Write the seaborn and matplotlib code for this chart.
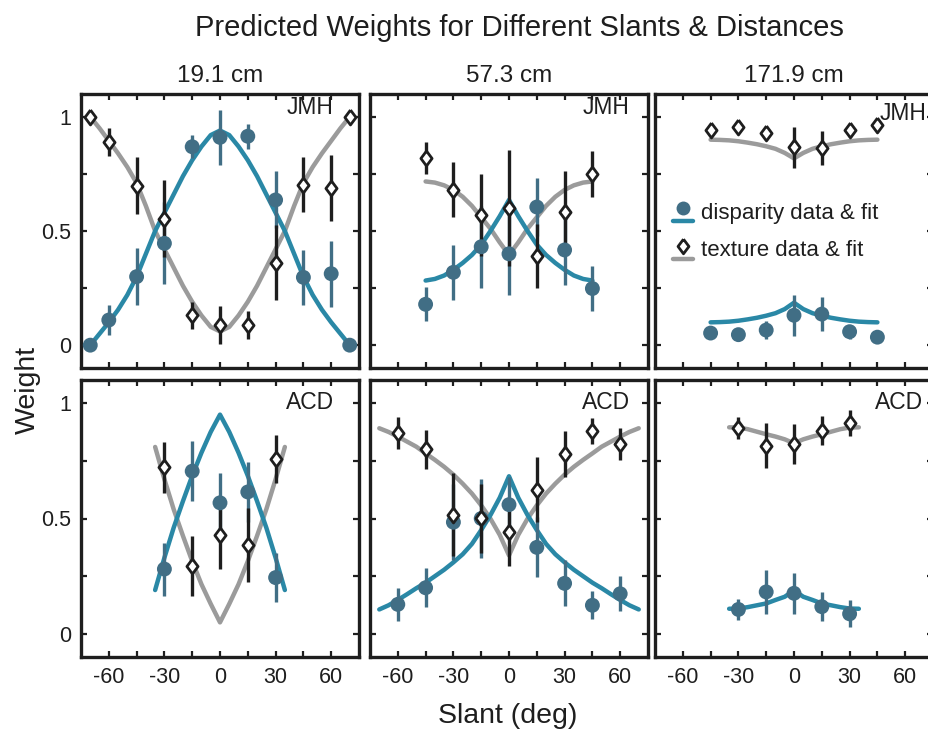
import matplotlib
matplotlib.use('Agg')
import matplotlib.pyplot as plt
from matplotlib.lines import Line2D
from matplotlib.legend_handler import HandlerBase
import seaborn as sns

# colours
FIT_BLUE = '#2a88a6'
DOT_BLUE = '#416e85'
FIT_GRAY = '#9b9b9b'
INK = '#1e1e1e'

# diamond a bit narrower than tall, as in the figure
DIAMOND = [(0, 1), (0.75, 0), (0, -1), (-0.75, 0), (0, 1)]

# fit sampling grids (deg)
FX70 = [-70, -65, -60, -55, -50, -45, -40, -35, -30, -25, -20, -15, -10, -5, 0,
        5, 10, 15, 20, 25, 30, 35, 40, 45, 50, 55, 60, 65, 70]
FX45 = [-45, -40, -35, -30, -25, -20, -15, -10, -5, 0, 5, 10, 15, 20, 25, 30, 35, 40, 45]
FX35 = [-35, -30, -25, -20, -15, -10, -5, 0, 5, 10, 15, 20, 25, 30, 35]

# ---- JMH, 19.1 cm
jmh19_x = [-70, -60, -45, -30, -15, 0, 15, 30, 45, 60, 70]
jmh19_disp = [0.0, 0.11, 0.30, 0.446, 0.869, 0.91, 0.915, 0.636, 0.297, 0.313, 0.0]
jmh19_disp_err = [0, 0.064, 0.125, 0.18, 0.05, 0.12, 0.055, 0.125, 0.12, 0.145, 0]
jmh19_tex = [1.0, 0.89, 0.698, 0.554, 0.131, 0.088, 0.088, 0.362, 0.703, 0.687, 1.0]
jmh19_tex_err = [0, 0.06, 0.125, 0.17, 0.06, 0.085, 0.06, 0.165, 0.12, 0.145, 0]
jmh19_fit_disp = [0.0, 0.05, 0.10, 0.155, 0.22, 0.30, 0.40, 0.50, 0.58, 0.66, 0.74, 0.81, 0.87, 0.92, 0.94,
                  0.92, 0.87, 0.81, 0.74, 0.66, 0.58, 0.50, 0.40, 0.30, 0.22, 0.155, 0.10, 0.05, 0.0]
jmh19_fit_tex = [1.0, 0.95, 0.895, 0.84, 0.78, 0.71, 0.61, 0.50, 0.42, 0.34, 0.26, 0.19, 0.13, 0.08, 0.06,
                 0.08, 0.13, 0.19, 0.26, 0.34, 0.42, 0.50, 0.61, 0.71, 0.78, 0.84, 0.895, 0.95, 1.0]

# ---- JMH, 57.3 cm
jmh57_x = [-45, -30, -15, 0, 15, 30, 45]
jmh57_disp = [0.179, 0.319, 0.431, 0.40, 0.605, 0.417, 0.248]
jmh57_disp_err = [0.075, 0.12, 0.18, 0.18, 0.125, 0.155, 0.1]
jmh57_tex = [0.821, 0.681, 0.569, 0.60, 0.392, 0.583, 0.749]
jmh57_tex_err = [0.07, 0.12, 0.18, 0.255, 0.14, 0.18, 0.1]
jmh57_fit_disp = [0.283, 0.29, 0.305, 0.33, 0.36, 0.395, 0.44, 0.50, 0.565, 0.636,
                  0.565, 0.50, 0.44, 0.395, 0.36, 0.33, 0.305, 0.29, 0.283]
jmh57_fit_tex = [0.717, 0.712, 0.70, 0.68, 0.65, 0.61, 0.56, 0.51, 0.45, 0.395,
                 0.45, 0.51, 0.56, 0.61, 0.65, 0.68, 0.70, 0.712, 0.717]

# ---- JMH, 171.9 cm
jmh171_x = [-45, -30, -15, 0, 15, 30, 45]
jmh171_disp = [0.053, 0.046, 0.066, 0.131, 0.136, 0.059, 0.035]
jmh171_disp_err = [0, 0, 0.04, 0.09, 0.075, 0.03, 0]
jmh171_tex = [0.944, 0.955, 0.929, 0.867, 0.864, 0.941, 0.965]
jmh171_tex_err = [0, 0, 0.03, 0.09, 0.075, 0.03, 0]
jmh171_fit_disp = [0.10, 0.101, 0.103, 0.107, 0.113, 0.12, 0.129, 0.14, 0.158, 0.186,
                   0.158, 0.14, 0.129, 0.12, 0.113, 0.107, 0.103, 0.101, 0.10]
jmh171_fit_tex = [0.90, 0.899, 0.897, 0.893, 0.887, 0.88, 0.871, 0.86, 0.842, 0.818,
                  0.842, 0.86, 0.871, 0.88, 0.887, 0.893, 0.897, 0.899, 0.90]

# ---- ACD, 19.1 cm
acd19_x = [-30, -15, 0, 15, 30]
acd19_disp = [0.281, 0.705, 0.568, 0.615, 0.244]
acd19_disp_err = [0.115, 0.13, 0.13, 0.13, 0.105]
acd19_tex = [0.721, 0.295, 0.43, 0.385, 0.757]
acd19_tex_err = [0.11, 0.13, 0.15, 0.16, 0.105]
acd19_fit_disp = [0.19, 0.33, 0.46, 0.575, 0.685, 0.785, 0.875, 0.95,
                  0.875, 0.785, 0.685, 0.575, 0.46, 0.33, 0.19]
acd19_fit_tex = [0.81, 0.67, 0.54, 0.425, 0.315, 0.215, 0.13, 0.05,
                 0.13, 0.215, 0.315, 0.425, 0.54, 0.67, 0.81]

# ---- ACD, 57.3 cm
acd57_x = [-60, -45, -30, -15, 0, 15, 30, 45, 60]
acd57_disp = [0.128, 0.2, 0.484, 0.5, 0.56, 0.375, 0.219, 0.124, 0.174]
acd57_disp_err = [0.07, 0.085, 0.165, 0.17, 0.12, 0.13, 0.1, 0.06, 0.075]
acd57_tex = [0.869, 0.8, 0.516, 0.501, 0.44, 0.625, 0.779, 0.879, 0.823]
acd57_tex_err = [0.07, 0.085, 0.18, 0.15, 0.145, 0.14, 0.1, 0.055, 0.07]
acd57_fit_disp = [0.106, 0.124, 0.147, 0.172, 0.198, 0.222, 0.25, 0.278, 0.31, 0.345, 0.39, 0.45, 0.515, 0.59, 0.683,
                  0.59, 0.515, 0.45, 0.39, 0.345, 0.31, 0.278, 0.25, 0.222, 0.198, 0.172, 0.147, 0.124, 0.106]
acd57_fit_tex = [0.891, 0.875, 0.855, 0.833, 0.811, 0.782, 0.754, 0.724, 0.69, 0.651, 0.608, 0.557, 0.499, 0.429, 0.34,
                 0.429, 0.499, 0.557, 0.608, 0.651, 0.69, 0.724, 0.754, 0.782, 0.811, 0.833, 0.855, 0.875, 0.891]

# ---- ACD, 171.9 cm
acd171_x = [-30, -15, 0, 15, 30]
acd171_disp = [0.106, 0.182, 0.176, 0.118, 0.087]
acd171_disp_err = [0.045, 0.095, 0.09, 0.063, 0.058]
acd171_tex = [0.891, 0.815, 0.823, 0.881, 0.913]
acd171_tex_err = [0.047, 0.097, 0.087, 0.063, 0.055]
acd171_fit_disp = [0.109, 0.11, 0.116, 0.124, 0.132, 0.147, 0.161, 0.189,
                   0.161, 0.147, 0.132, 0.124, 0.116, 0.11, 0.109]
acd171_fit_tex = [0.895, 0.894, 0.887, 0.876, 0.865, 0.855, 0.843, 0.826,
                  0.843, 0.855, 0.865, 0.876, 0.887, 0.894, 0.895]

distances = ['19.1 cm', '57.3 cm', '171.9 cm']
subjects = ['JMH', 'ACD']
xtick_vals = [-60, -30, 0, 30, 60]
ytick_vals = [0, 0.5, 1]
ytick_labels = ['0', '0.5', '1']

sns.set_theme(style='ticks')
plt.rcParams['font.family'] = ['Liberation Sans', 'DejaVu Sans']
plt.rcParams['text.color'] = INK
plt.rcParams['xtick.color'] = INK
plt.rcParams['ytick.color'] = INK


class MarkOverLine:
    def __init__(self, mark, line):
        self.mark = mark
        self.line = line


class StackedHandler(HandlerBase):
    # marker sits above a short piece of the fit line
    def create_artists(self, legend, orig_handle, xdescent, ydescent, width, height, fontsize, trans):
        x0 = -xdescent
        x1 = x0 + width
        y0 = -ydescent
        ln = Line2D([x0, x1], [y0 + 0.12 * height] * 2, color=orig_handle.line.get_color(),
                    lw=orig_handle.line.get_linewidth(), solid_capstyle='round', transform=trans)
        m = orig_handle.mark
        mk = Line2D([(x0 + x1) / 2], [y0 + 0.62 * height], linestyle='none', marker=m.get_marker(),
                    markersize=m.get_markersize(), markerfacecolor=m.get_markerfacecolor(),
                    markeredgecolor=m.get_markeredgecolor(), markeredgewidth=m.get_markeredgewidth(),
                    transform=trans)
        return [ln, mk]


def draw_panel(ax, fx, fit_d, fit_t, x, d, de, t, te):
    sns.lineplot(x=fx, y=fit_t, ax=ax, color=FIT_GRAY, lw=3.2, zorder=2)
    sns.lineplot(x=fx, y=fit_d, ax=ax, color=FIT_BLUE, lw=3.2, zorder=2)
    ax.errorbar(x, d, yerr=de, fmt='none', ecolor=DOT_BLUE, elinewidth=2.4, capsize=0, zorder=3)
    ax.errorbar(x, t, yerr=te, fmt='none', ecolor=INK, elinewidth=2.4, capsize=0, zorder=3)
    sns.scatterplot(x=x, y=d, ax=ax, color=DOT_BLUE, s=115, edgecolor='none', zorder=4)
    sns.scatterplot(x=x, y=t, ax=ax, marker=DIAMOND, color='white', s=115, edgecolor=INK,
                    linewidth=2.0, zorder=5)


panels = [
    [(FX70, jmh19_fit_disp, jmh19_fit_tex, jmh19_x, jmh19_disp, jmh19_disp_err, jmh19_tex, jmh19_tex_err),
     (FX45, jmh57_fit_disp, jmh57_fit_tex, jmh57_x, jmh57_disp, jmh57_disp_err, jmh57_tex, jmh57_tex_err),
     (FX45, jmh171_fit_disp, jmh171_fit_tex, jmh171_x, jmh171_disp, jmh171_disp_err, jmh171_tex, jmh171_tex_err)],
    [(FX35, acd19_fit_disp, acd19_fit_tex, acd19_x, acd19_disp, acd19_disp_err, acd19_tex, acd19_tex_err),
     (FX70, acd57_fit_disp, acd57_fit_tex, acd57_x, acd57_disp, acd57_disp_err, acd57_tex, acd57_tex_err),
     (FX35, acd171_fit_disp, acd171_fit_tex, acd171_x, acd171_disp, acd171_disp_err, acd171_tex, acd171_tex_err)],
]

W, H = 929, 732
fig = plt.figure(figsize=(W / 100, H / 100), dpi=100)

col_left = [81, 370, 655]
col_w = 278
row_top = [94, 380]
row_h = [274, 277]
# where the subject name sits in each panel (axes fraction)
label_pos = [[(0.91, 0.95), (0.935, 0.95), (0.975, 0.93)],
             [(0.91, 0.92), (0.935, 0.92), (0.965, 0.918)]]

axes = []
for r in range(2):
    for c in range(3):
        ax = fig.add_axes([col_left[c] / W, 1 - (row_top[r] + row_h[r]) / H, col_w / W, row_h[r] / H])
        draw_panel(ax, *panels[r][c])
        ax.set_xlim(-75, 75)
        ax.set_ylim(-0.1, 1.1)
        ax.set_xticks(xtick_vals)
        ax.set_xticks([-45, -15, 15, 45], minor=True)
        ax.set_yticks(ytick_vals)
        ax.set_yticks([0.25, 0.75], minor=True)
        ax.tick_params(which='both', direction='in', top=True, right=True, length=4, width=1.6,
                       labelsize=15.5, pad=7)
        if r == 1:
            ax.set_xticklabels([str(v) for v in xtick_vals])
        else:
            ax.set_xticklabels([])
        if c == 0:
            ax.set_yticklabels(ytick_labels)
        else:
            ax.set_yticklabels([])
        for sp in ax.spines.values():
            sp.set_linewidth(2.4)
            sp.set_color(INK)
        ax.set_xlabel('')
        ax.set_ylabel('')
        if r == 0:
            ax.set_title(distances[c], fontsize=17.5, pad=9, color=INK)
        lx, ly = label_pos[r][c]
        ax.text(lx, ly, subjects[r], transform=ax.transAxes, ha='right', va='center', fontsize=16.5, color=INK)
        axes.append(ax)

# legend inside the far panel of the top row
mark_d = Line2D([], [], marker='o', linestyle='none', markersize=10, markerfacecolor=DOT_BLUE,
                markeredgecolor=DOT_BLUE, markeredgewidth=0)
mark_t = Line2D([], [], marker=DIAMOND, linestyle='none', markersize=10.5, markerfacecolor='white',
                markeredgecolor=INK, markeredgewidth=2.0)
line_d = Line2D([], [], color=FIT_BLUE, lw=3.2)
line_t = Line2D([], [], color=FIT_GRAY, lw=3.2)
axes[2].legend([MarkOverLine(mark_d, line_d), MarkOverLine(mark_t, line_t)],
               ['disparity data & fit', 'texture data & fit'],
               handler_map={MarkOverLine: StackedHandler()},
               loc='upper left', bbox_to_anchor=(0.065, 0.62), frameon=False, fontsize=16,
               handlelength=0.9, handleheight=1.45, handletextpad=0.35, labelspacing=0.5,
               borderpad=0, borderaxespad=0)

fig.text(519 / W, 1 - 28 / H, 'Predicted Weights for Different Slants & Distances',
         ha='center', va='center', fontsize=21, color=INK)
fig.text(28 / W, 1 - 390 / H, 'Weight', rotation=90, ha='center', va='center', fontsize=20.5, color=INK)
fig.text(508 / W, 1 - 716 / H, 'Slant (deg)', ha='center', va='center', fontsize=20.5, color=INK)

fig.savefig('out.png', dpi=100)
